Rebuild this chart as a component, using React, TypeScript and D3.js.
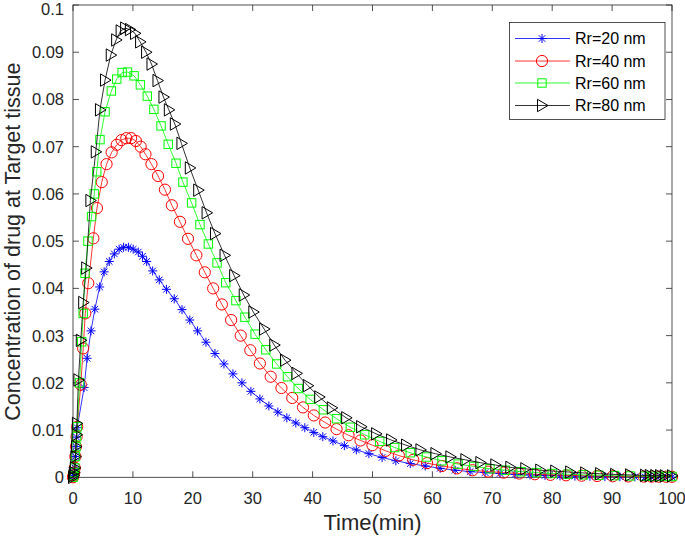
import React from "react";
import * as d3 from "d3";

const W = 685;
const H = 539;

const xTicks = [0, 10, 20, 30, 40, 50, 60, 70, 80, 90, 100];
const yTicks = [0, 0.01, 0.02, 0.03, 0.04, 0.05, 0.06, 0.07, 0.08, 0.09, 0.1];
const yTickLabels = ["0", "0.01", "0.02", "0.03", "0.04", "0.05", "0.06", "0.07", "0.08", "0.09", "0.1"];

const seriesNames = ["Rr=20 nm", "Rr=40 nm", "Rr=60 nm", "Rr=80 nm"];

const t20 = [0, 0.1, 0.2, 0.3, 0.4, 0.5, 0.6, 0.7, 1.85, 2.35, 3.0, 3.65, 4.45, 5.2, 6.05, 6.9, 7.7, 8.45, 9.25, 10.05, 10.9, 11.6, 12.3, 13.3, 14.4, 15.6, 16.9, 18.2, 19.5, 20.8, 22.2, 23.7, 25.2, 26.7, 28.2, 29.7, 31.2, 32.7, 34.2, 35.7, 37.2, 38.7, 40.2, 41.7, 43.4, 45.3, 47.3, 49.4, 51.6, 53.9, 56.3, 58.8, 61.3, 63.8, 66.3, 68.8, 71.3, 73.8, 76.3, 78.8, 81.3, 83.8, 86.3, 88.8, 91.3, 93.8, 95.5, 96.5, 97.5, 98.5, 100];
const c20 = [0, 0.0004, 0.001, 0.002, 0.0044, 0.0065, 0.0085, 0.0105, 0.019, 0.0252, 0.031, 0.0356, 0.0403, 0.0435, 0.0457, 0.0473, 0.0483, 0.0487, 0.0487, 0.0483, 0.0477, 0.0468, 0.0457, 0.0437, 0.0418, 0.0398, 0.0378, 0.0355, 0.0333, 0.031, 0.0286, 0.0262, 0.024, 0.0219, 0.02, 0.0182, 0.0166, 0.0151, 0.0138, 0.0126, 0.0115, 0.0105, 0.0095, 0.0086, 0.0077, 0.0067, 0.0058, 0.005, 0.0042, 0.0035, 0.0029, 0.0024, 0.0019, 0.0015, 0.0012, 0.001, 0.0008, 0.0006, 0.0005, 0.0004, 0.0003, 0.00025, 0.0002, 0.00015, 0.00012, 0.0001, 0.00008, 0.00007, 0.00006, 0.00005, 0.00004];

const t40 = [0, 0.1, 0.2, 0.3, 0.4, 0.5, 0.6, 0.7, 1.3, 1.7, 2.05, 2.55, 3.4, 4.0, 4.8, 5.6, 6.45, 7.3, 8.1, 8.9, 9.7, 10.5, 11.3, 12.1, 13.1, 14.2, 15.35, 16.5, 17.85, 19.2, 20.6, 22.0, 23.4, 24.85, 26.4, 28.0, 29.6, 31.2, 33.0, 34.8, 36.6, 38.4, 40.2, 42.1, 44.0, 46.0, 48.0, 50.0, 52.2, 54.4, 56.8, 59.1, 61.6, 64.1, 66.7, 69.3, 71.9, 74.5, 77.1, 79.7, 82.3, 84.9, 87.5, 90.1, 92.7, 95.3, 96.6, 97.8, 99, 100];
const c40 = [0, 0.0004, 0.001, 0.002, 0.0044, 0.0065, 0.0086, 0.0107, 0.0196, 0.0273, 0.0347, 0.0411, 0.0506, 0.057, 0.0625, 0.0663, 0.0688, 0.0704, 0.0714, 0.0718, 0.0718, 0.0712, 0.07, 0.0684, 0.0663, 0.0638, 0.0609, 0.0576, 0.0541, 0.0505, 0.047, 0.0434, 0.04, 0.0366, 0.0333, 0.03, 0.0269, 0.0241, 0.0213, 0.0189, 0.0168, 0.0148, 0.0131, 0.0116, 0.0102, 0.0089, 0.0078, 0.0068, 0.0056, 0.0046, 0.0037, 0.003, 0.0024, 0.0019, 0.0015, 0.0012, 0.001, 0.0008, 0.00065, 0.00052, 0.00042, 0.00034, 0.00027, 0.00022, 0.00018, 0.00015, 0.00014, 0.00013, 0.00012, 0.00011];

const t60 = [0, 0.1, 0.2, 0.3, 0.4, 0.5, 0.6, 0.7, 1.1, 1.45, 1.7, 2.0, 2.5, 3.1, 3.55, 3.96, 4.5, 5.35, 6.4, 7.3, 8.2, 9.1, 10.2, 11.25, 12.4, 13.5, 14.7, 15.9, 17.2, 18.35, 19.8, 21.2, 22.6, 24.05, 25.5, 27.2, 28.7, 30.4, 32.2, 34.0, 35.8, 37.6, 39.6, 41.8, 44.0, 46.3, 48.7, 51.2, 53.7, 56.3, 59.0, 61.6, 64.3, 66.9, 69.6, 72.2, 74.8, 77.4, 80.0, 82.6, 85.2, 87.8, 90.4, 93.0, 95.4, 96.6, 97.8, 99, 100];
const c60 = [0, 0.0004, 0.001, 0.002, 0.0044, 0.0065, 0.0086, 0.0107, 0.02, 0.0287, 0.0347, 0.0432, 0.05, 0.0552, 0.06, 0.0647, 0.0715, 0.0774, 0.0818, 0.0843, 0.0857, 0.0858, 0.085, 0.0831, 0.0807, 0.0779, 0.0744, 0.0705, 0.0665, 0.0625, 0.0581, 0.0535, 0.0494, 0.0454, 0.0412, 0.0374, 0.0339, 0.0303, 0.027, 0.024, 0.0213, 0.0188, 0.0165, 0.0143, 0.0124, 0.0106, 0.009, 0.0076, 0.0063, 0.0052, 0.0043, 0.0035, 0.0028, 0.0023, 0.0018, 0.0015, 0.0012, 0.001, 0.0008, 0.00065, 0.00053, 0.00043, 0.00035, 0.00029, 0.00024, 0.00022, 0.0002, 0.00019, 0.00018];

const t80 = [0, 0.1, 0.2, 0.3, 0.4, 0.5, 0.6, 0.65, 0.9, 1.3, 1.7, 2.2, 2.9, 3.8, 4.5, 5.35, 6.3, 7.2, 7.95, 8.7, 9.5, 10.35, 11.2, 12.2, 13.1, 14.1, 15.1, 16.0, 17.0, 18.1, 19.5, 20.9, 22.3, 23.7, 25.3, 26.9, 28.5, 30.1, 31.9, 33.6, 35.4, 37.3, 39.2, 41.1, 43.2, 45.6, 48.1, 50.6, 53.1, 55.6, 58.0, 60.5, 63.0, 65.5, 68.0, 70.5, 73.0, 75.5, 78.0, 80.5, 83.0, 85.5, 88.0, 90.5, 93.0, 95.5, 96.3, 97.2, 98.0, 98.8, 100];
const c80 = [0, 0.0004, 0.001, 0.002, 0.0044, 0.0065, 0.009, 0.0114, 0.0206, 0.029, 0.037, 0.0443, 0.0586, 0.0689, 0.0778, 0.0841, 0.0894, 0.0926, 0.0945, 0.0951, 0.0948, 0.094, 0.0922, 0.09, 0.0875, 0.084, 0.0805, 0.0778, 0.0748, 0.0707, 0.0655, 0.0608, 0.056, 0.0516, 0.047, 0.0427, 0.0386, 0.035, 0.0314, 0.028, 0.0248, 0.022, 0.0194, 0.017, 0.0147, 0.0126, 0.0107, 0.0092, 0.0079, 0.0068, 0.0058, 0.005, 0.0043, 0.0037, 0.0031, 0.0026, 0.0021, 0.0018, 0.0015, 0.0013, 0.0011, 0.0009, 0.00075, 0.0006, 0.0005, 0.0004, 0.00037, 0.00035, 0.00033, 0.00031, 0.0003];

const colors = ["#0000ff", "#ff0000", "#00ff00", "#000000"];
const markerKinds = ["star", "circle", "square", "tri"];

const M = { left: 73, right: 672, top: 5, bottom: 477.3 };
const AX = "#262626";
const FONT = "Liberation Sans, Arial, Helvetica, sans-serif";

function Marker({ kind, x, y, color }: { kind: string; x: number; y: number; color: string }) {
  if (kind === "star") {
    const r = 4.5;
    const d = r * 0.72;
    return (
      <g stroke={color} strokeWidth={1}>
        <line x1={x - r} y1={y} x2={x + r} y2={y} />
        <line x1={x} y1={y - r} x2={x} y2={y + r} />
        <line x1={x - d} y1={y - d} x2={x + d} y2={y + d} />
        <line x1={x - d} y1={y + d} x2={x + d} y2={y - d} />
      </g>
    );
  }
  if (kind === "circle") {
    return <circle cx={x} cy={y} r={5.6} fill="none" stroke={color} strokeWidth={1} />;
  }
  if (kind === "square") {
    return <rect x={x - 4.2} y={y - 4.2} width={8.4} height={8.4} fill="none" stroke={color} strokeWidth={1} />;
  }
  return (
    <path
      d={`M${x - 4.5},${y - 6.2}L${x + 6},${y}L${x - 4.5},${y + 6.2}Z`}
      fill="none"
      stroke={color}
      strokeWidth={1}
    />
  );
}

export default function App() {
  const x = d3.scaleLinear().domain([0, 100]).range([M.left, M.right]);
  const y = d3.scaleLinear().domain([0, 0.1]).range([M.bottom, M.top]);
  const line = d3
    .line<[number, number]>()
    .x((d) => x(d[0]))
    .y((d) => y(d[1]));

  const series = [
    { t: t20, c: c20 },
    { t: t40, c: c40 },
    { t: t60, c: c60 },
    { t: t80, c: c80 },
  ].map((s, i) => ({
    name: seriesNames[i],
    color: colors[i],
    kind: markerKinds[i],
    pts: s.t.map((tv, j) => [tv, s.c[j]] as [number, number]),
  }));

  const tickLen = 6;
  const legend = { x: 509.5, y: 22.5, w: 155.5, h: 97 };
  const legendRows = [38.5, 61, 83, 105.5];

  return (
    <svg
      width={W}
      height={H}
      style={{ position: "absolute", left: 0, top: 0, background: "#fff" }}
      fontFamily={FONT}
    >
      <rect x={0} y={0} width={W} height={H} fill="#fff" />
      <rect
        x={M.left}
        y={M.top}
        width={M.right - M.left}
        height={M.bottom - M.top}
        fill="none"
        stroke={AX}
        strokeWidth={0.8}
      />
      {xTicks.map((v) => (
        <g key={"xt" + v}>
          <line x1={x(v)} x2={x(v)} y1={M.bottom} y2={M.bottom - tickLen} stroke={AX} strokeWidth={0.8} />
          <line x1={x(v)} x2={x(v)} y1={M.top} y2={M.top + tickLen} stroke={AX} strokeWidth={0.8} />
          <text x={x(v)} y={504} textAnchor="middle" fontSize={16.5} fill={AX}>
            {v}
          </text>
        </g>
      ))}
      {yTicks.map((v, i) => (
        <g key={"yt" + v}>
          <line x1={M.left} x2={M.left + tickLen} y1={y(v)} y2={y(v)} stroke={AX} strokeWidth={0.8} />
          <line x1={M.right} x2={M.right - tickLen} y1={y(v)} y2={y(v)} stroke={AX} strokeWidth={0.8} />
          <text x={64} y={Math.max(y(v) + 6, 15.2)} textAnchor="end" fontSize={16.5} fill={AX}>
            {yTickLabels[i]}
          </text>
        </g>
      ))}
      {series.map((s) => (
        <g key={s.name}>
          <path d={line(s.pts) || ""} fill="none" stroke={s.color} strokeWidth={0.8} />
          {s.pts.map((p, j) => (
            <Marker key={j} kind={s.kind} x={x(p[0])} y={y(p[1])} color={s.color} />
          ))}
        </g>
      ))}
      <text x={(M.left + M.right) / 2} y={530} textAnchor="middle" fontSize={22} fill={AX}>
        Time(min)
      </text>
      <text
        transform={`translate(19.5,${(M.top + M.bottom) / 2 + 0.5}) rotate(-90)`}
        textAnchor="middle"
        fontSize={21.5}
        fill={AX}
      >
        Concentration of drug at Target tissue
      </text>
      <rect x={legend.x} y={legend.y} width={legend.w} height={legend.h} fill="#fff" stroke={AX} strokeWidth={0.8} />
      {series.map((s, i) => (
        <g key={"lg" + i}>
          <line x1={515} x2={570} y1={legendRows[i]} y2={legendRows[i]} stroke={s.color} strokeWidth={0.8} />
          <Marker kind={s.kind} x={542} y={legendRows[i]} color={s.color} />
          <text x={575} y={legendRows[i] + 5.5} fontSize={16} fill="#000">
            {s.name}
          </text>
        </g>
      ))}
    </svg>
  );
}
